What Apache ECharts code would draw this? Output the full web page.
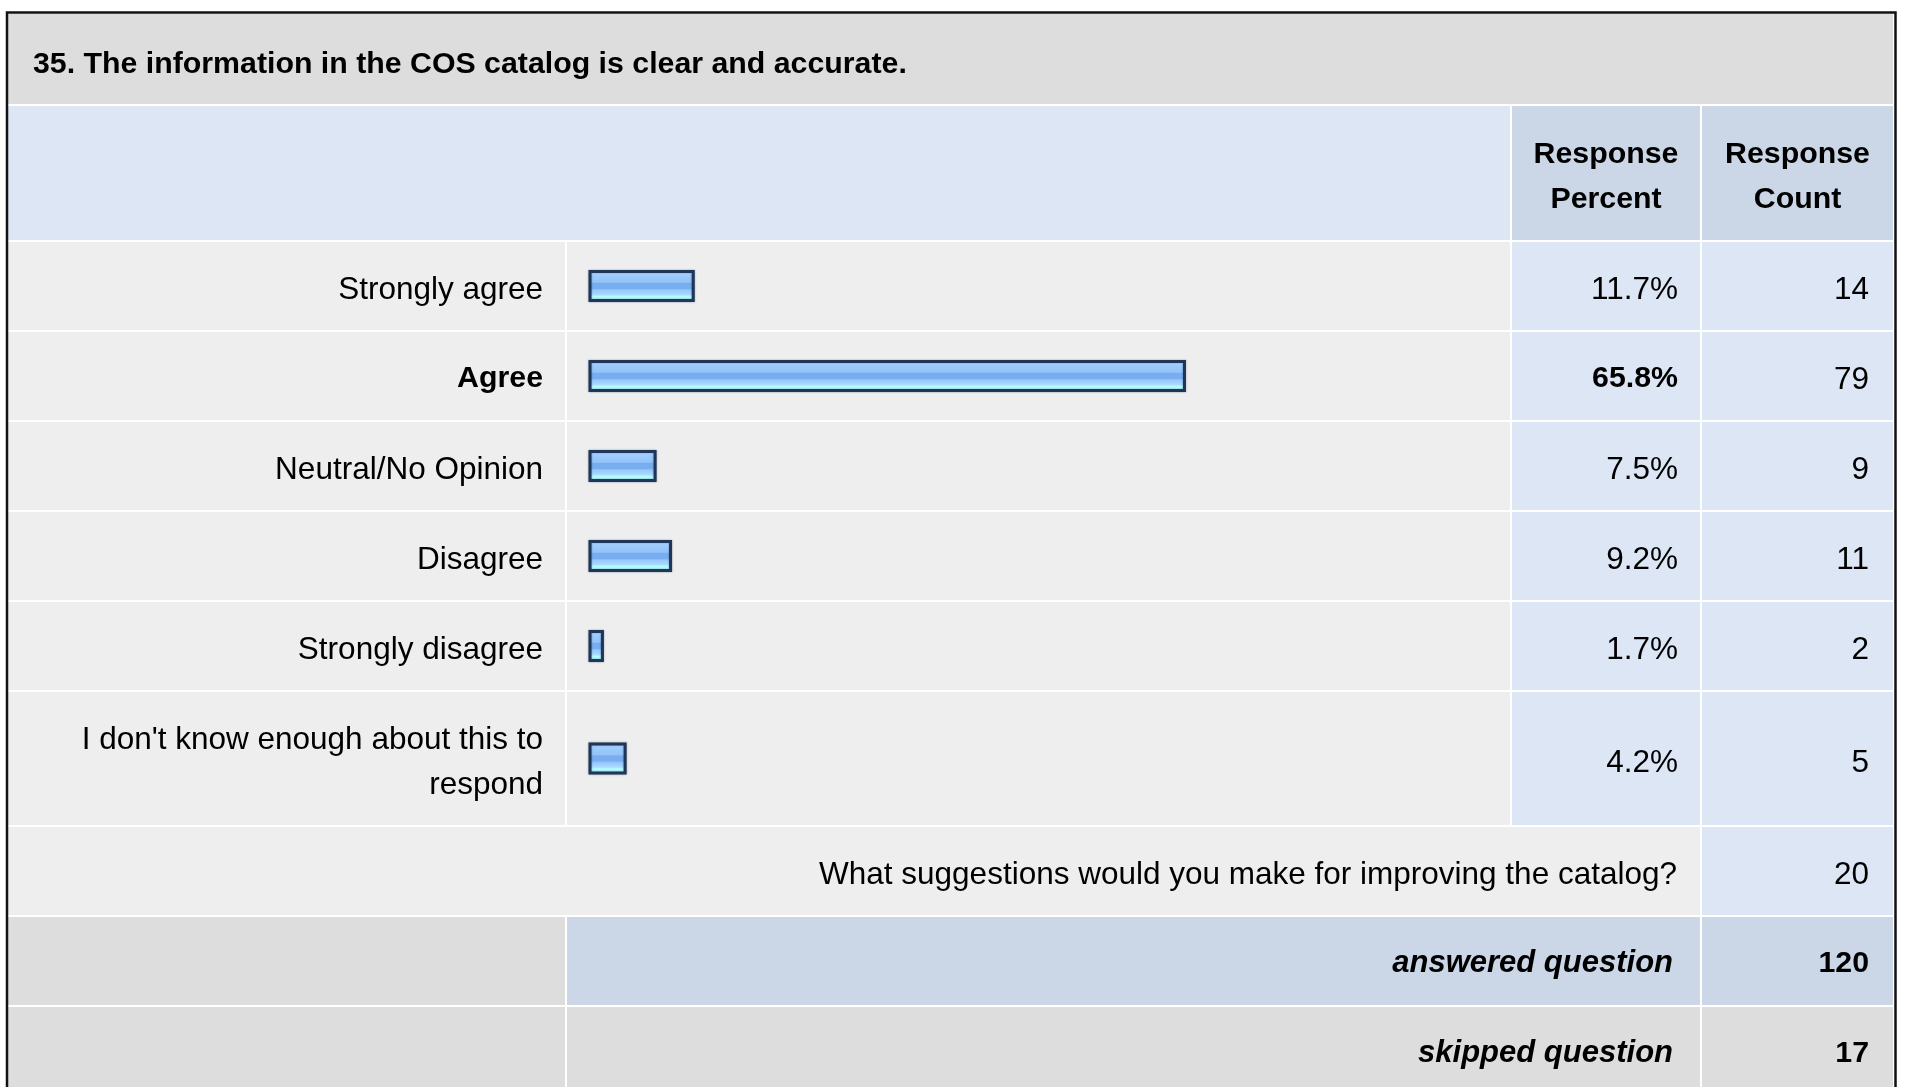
<!DOCTYPE html>
<html>
<head>
<meta charset="utf-8">
<title>35. COS catalog</title>
<script src="https://cdn.jsdelivr.net/npm/echarts@6/dist/echarts.min.js"></script>
<style>
html,body{margin:0;padding:0;background:#fff;}
#main{width:1907px;height:1087px;}
</style>
</head>
<body>
<div id="main"></div>
<script>
// 数据
var question = '35. The information in the COS catalog is clear and accurate.';
var answers = ['Strongly agree', 'Agree', 'Neutral/No Opinion', 'Disagree', 'Strongly disagree', "I don't know enough about this to\nrespond"];
var percents = [11.7, 65.8, 7.5, 9.2, 1.7, 4.2];
var counts = [14, 79, 9, 11, 2, 5];
var headers = ['Response\nPercent', 'Response\nCount'];
var commentLabel = 'What suggestions would you make for improving the catalog?';
var commentCount = 20;
var footLabels = ['answered question', 'skipped question'];
var footCounts = [120, 17];

var fontName = '"Liberation Sans", Arial, Helvetica, sans-serif';
// 列边界: 左 | 标签|条 | 条|百分比 | 百分比|数量 | 右
var colX = [7, 566, 1511, 1701, 1894];
// 行边界: 标题, 表头, 6个答案, 建议, answered, skipped
var rowY = [13, 105, 241, 331, 421, 511, 601, 691, 826, 916, 1006, 1096];

var cGrey = '#dddddd', cRow = '#eeeeee', cBlue = '#dce6f4', cHead = '#cbd7e6';
// 字号: 普通 / 粗体 / 粗斜体
var fsNormal = 31.5, fsBold = 30.3, fsItalic = 31;

var maxIdx = 0;
for (var k = 1; k < percents.length; k++) {
	if (percents[k] > percents[maxIdx]) maxIdx = k;
}

var graphics = [];
function cell(c0, c1, r0, r1, color) {
	var x0 = colX[c0] + 1, x1 = colX[c1] - 1;
	var y0 = rowY[r0] + 1, y1 = rowY[r1] - 1;
	graphics.push({
		type: 'rect', z: 0, silent: true,
		shape: {x: x0, y: y0, width: x1 - x0, height: y1 - y0},
		style: {fill: color}
	});
}
function txt(str, x, y, align, weight, style) {
	var bold = weight === 'bold';
	var fs = style === 'italic' ? fsItalic : (bold ? fsBold : fsNormal);
	graphics.push({
		type: 'text', z: 10, silent: true, x: x, y: y + (bold ? 1.5 : 3.5),
		style: {
			text: str, fill: '#000', fontSize: fs, fontFamily: fontName,
			fontWeight: weight || 'normal', fontStyle: style || 'normal',
			align: align, verticalAlign: 'middle', lineHeight: 45
		}
	});
}
function midY(r) { return (rowY[r] + rowY[r + 1]) / 2 + 1; }

// 标题行
cell(0, 4, 0, 1, cGrey);
txt(question, 33, midY(0) + 3, 'left', 'bold');
// 表头
cell(0, 2, 1, 2, cBlue);
cell(2, 3, 1, 2, cHead);
cell(3, 4, 1, 2, cHead);
txt(headers[0], (colX[2] + colX[3]) / 2, midY(1) + 2, 'center', 'bold');
txt(headers[1], (colX[3] + colX[4]) / 2, midY(1) + 2, 'center', 'bold');

// 每个答案一行: 标签, 百分比, 数量
for (var i = 0; i < answers.length; i++) {
	var r = i + 2;
	var w = i === maxIdx ? 'bold' : 'normal';
	cell(0, 1, r, r + 1, cRow);
	cell(1, 2, r, r + 1, cRow);
	cell(2, 3, r, r + 1, cBlue);
	cell(3, 4, r, r + 1, cBlue);
	txt(answers[i], colX[1] - 23, midY(r) - (w === 'bold' ? 0 : 0.5), 'right', w);
	txt(percents[i].toFixed(1) + '%', colX[3] - 23, midY(r), 'right', w);
	txt(String(counts[i]), colX[4] - 25, midY(r), 'right');
}
// 建议行
cell(0, 3, 8, 9, cRow);
cell(3, 4, 8, 9, cBlue);
txt(commentLabel, colX[3] - 24, midY(8), 'right');
txt(String(commentCount), colX[4] - 25, midY(8), 'right');
// answered / skipped
cell(0, 1, 9, 10, cGrey);
cell(1, 3, 9, 10, cHead);
cell(3, 4, 9, 10, cHead);
cell(0, 1, 10, 11, cGrey);
cell(1, 3, 10, 11, cGrey);
cell(3, 4, 10, 11, cGrey);
for (var j = 0; j < footLabels.length; j++) {
	txt(footLabels[j], colX[3] - 28, midY(9 + j), 'right', 'bold', 'italic');
	txt(String(footCounts[j]), colX[4] - 25, midY(9 + j), 'right', 'bold');
}
// 外框
graphics.push({
	type: 'rect', z: 20, silent: true,
	shape: {x: 7, y: 12.5, width: 1888.5, height: 1200},
	style: {fill: 'none', stroke: '#111', lineWidth: 2.5}
});

// 条形的渐变 (每个系列一份)
function barColor() {
	return {
		type: 'linear', x: 0, y: 0, x2: 0, y2: 1,
		colorStops: [
			{offset: 0, color: '#c6e0ff'},
			{offset: 0.1, color: '#b0d6ff'},
			{offset: 0.18, color: '#9dcbfd'},
			{offset: 0.38, color: '#93c3f9'},
			{offset: 0.42, color: '#78aeef'},
			{offset: 0.58, color: '#78aeef'},
			{offset: 0.62, color: '#96c7fb'},
			{offset: 0.76, color: '#a8d8ff'},
			{offset: 0.82, color: '#b4fbff'},
			{offset: 1, color: '#b4ffff'}
		]
	};
}

// 每行一个 grid, 条形按 0-100 的数值轴画
var grids = [], xAxes = [], yAxes = [], series = [];
for (var n = 0; n < answers.length; n++) {
	var rowTop = rowY[n + 2] + 1;
	grids.push({left: 588.5, width: 908, top: rowTop, height: rowY[n + 3] - rowTop - 1});
	xAxes.push({type: 'value', gridIndex: n, min: 0, max: 100, show: false});
	yAxes.push({
		type: 'category', gridIndex: n, data: [answers[n]],
		axisLine: {show: false}, axisTick: {show: false}, splitLine: {show: false},
		axisLabel: {show: false}
	});
	series.push({
		type: 'bar', xAxisIndex: n, yAxisIndex: n, z: 5,
		data: [percents[n]], barWidth: 32, silent: true,
		itemStyle: {
			color: barColor(), borderColor: '#1d3659', borderWidth: 3,
			shadowColor: 'rgba(30,50,80,0.45)', shadowBlur: 2
		}
	});
}

var myChart = echarts.init(document.getElementById('main'));
var option = {
	animation: false,
	backgroundColor: '#fff',
	grid: grids,
	xAxis: xAxes,
	yAxis: yAxes,
	series: series,
	graphic: graphics
};
myChart.setOption(option);
</script>
</body>
</html>
